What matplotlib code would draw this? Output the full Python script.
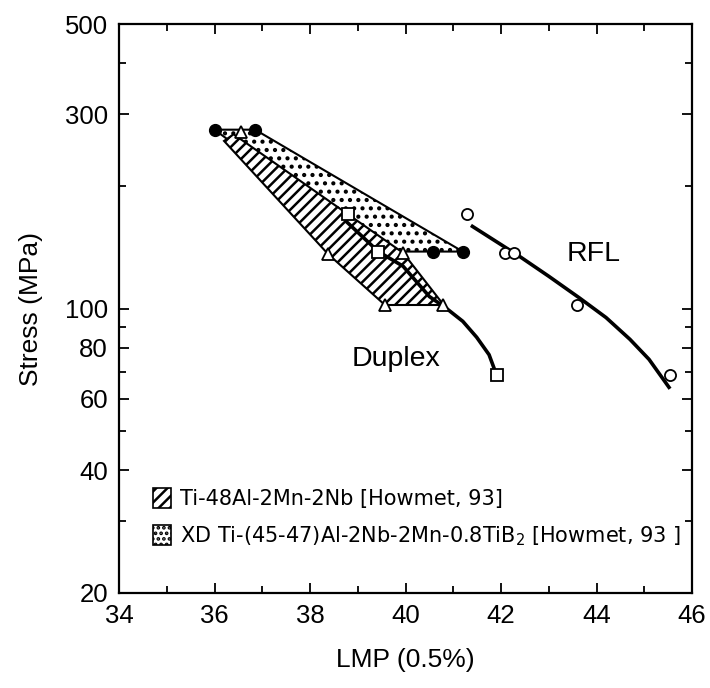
import matplotlib
matplotlib.use("Agg")
import matplotlib.pyplot as plt
from matplotlib.patches import Polygon, Patch
from matplotlib.ticker import FixedLocator, NullFormatter

plt.rcParams['font.family'] = ['Liberation Sans', 'DejaVu Sans']
plt.rcParams['hatch.linewidth'] = 1.8

# ---- data ----
# XD Ti-(45-47)Al-2Nb-2Mn-0.8TiB2 band (stippled)
xd_band_x = [36.0, 36.85, 41.2, 39.45]
xd_band_y = [275, 275, 138, 138]
xd_pts_x = [36.0, 36.85, 40.58, 41.2]
xd_pts_y = [275, 275, 138, 138]

# Ti-48Al-2Mn-2Nb band (hatched)
ti_band_x = [36.2, 38.38, 39.57, 40.8, 39.95, 36.4]
ti_band_y = [258, 136, 102, 102, 137, 268]
ti_pts_x = [36.55, 38.38, 39.95, 39.57, 40.79]
ti_pts_y = [272, 136, 137, 102, 102]

# Duplex
duplex_pts_x = [38.8, 39.43, 41.92]
duplex_pts_y = [171, 138, 68.5]
duplex_curve_x = [38.75, 39.43, 39.95, 40.5, 40.86, 41.2, 41.49, 41.75, 41.92]
duplex_curve_y = [164, 138, 127, 107, 100, 93, 85, 77, 68]

# RFL
rfl_pts_x = [41.28, 42.08, 42.27, 43.59, 45.54]
rfl_pts_y = [171, 137, 137, 102, 68.5]
rfl_curve_x = [41.37, 42.4, 43.0, 43.65, 44.2, 44.7, 45.1, 45.54]
rfl_curve_y = [160, 134, 120, 106, 95, 84, 75, 63.5]

y_major = [20, 40, 60, 80, 100, 300, 500]
y_minor = [30, 50, 70, 90, 200, 400]
x_major = [34, 36, 38, 40, 42, 44, 46]
x_minor = [35, 37, 39, 41, 43, 45]

legend_labels = ['Ti-48Al-2Mn-2Nb [Howmet, 93]',
                 'XD Ti-(45-47)Al-2Nb-2Mn-0.8TiB$_{2}$ [Howmet, 93 ]']

fig = plt.figure(figsize=(7.10, 6.88), dpi=100)
ax = fig.add_axes([119/710, 95/688, 573/710, 569/688])
ax.set_yscale('log')
ax.set_xlim(34, 46)
ax.set_ylim(20, 500)

# bands
xd_poly = Polygon(list(zip(xd_band_x, xd_band_y)), closed=True,
                  facecolor='white', edgecolor='black', hatch='..', lw=1.5, zorder=2)
ax.add_patch(xd_poly)
ti_poly = Polygon(list(zip(ti_band_x, ti_band_y)), closed=True,
                  facecolor='white', edgecolor='black', hatch='///', lw=1.5, zorder=3)
ax.add_patch(ti_poly)

# curves
ax.plot(duplex_curve_x, duplex_curve_y, color='black', lw=2.6, zorder=4,
        solid_capstyle='butt')
ax.plot(rfl_curve_x, rfl_curve_y, color='black', lw=2.6, zorder=4,
        solid_capstyle='butt')

# markers
ax.plot(xd_pts_x, xd_pts_y, 'o', ms=8.5, mfc='black', mec='black', zorder=6)
ax.plot(ti_pts_x, ti_pts_y, '^', ms=8.5, mfc='white', mec='black', mew=1.3, zorder=6)
ax.plot(duplex_pts_x, duplex_pts_y, 's', ms=8, mfc='white', mec='black', mew=1.3, zorder=6)
ax.plot(rfl_pts_x, rfl_pts_y, 'o', ms=8, mfc='white', mec='black', mew=1.3, zorder=6)

# labels
ax.text(43.93, 136, 'RFL', fontsize=20.5, ha='center', va='center')
ax.text(40.72, 75, 'Duplex', fontsize=20.5, ha='right', va='center')

# ticks
ax.yaxis.set_major_locator(FixedLocator(y_major))
ax.yaxis.set_minor_locator(FixedLocator(y_minor))
ax.set_yticklabels([str(v) for v in y_major])
ax.yaxis.set_minor_formatter(NullFormatter())
ax.xaxis.set_major_locator(FixedLocator(x_major))
ax.xaxis.set_minor_locator(FixedLocator(x_minor))
ax.set_xticklabels([str(v) for v in x_major])

ax.tick_params(which='both', direction='in', top=True, right=True, width=1.3,
               labelsize=18.5, colors='black')
ax.tick_params(which='major', length=7, pad=8)
ax.tick_params(which='minor', length=5)
for s in ax.spines.values():
    s.set_linewidth(1.6)

ax.set_xlabel('LMP (0.5%)', fontsize=19, labelpad=14)
ax.set_ylabel('Stress (MPa)', fontsize=19, labelpad=16)

handles = [Patch(facecolor='white', edgecolor='black', hatch='///', lw=1.2),
           Patch(facecolor='white', edgecolor='black', hatch='...', lw=1.2)]
ax.legend(handles, legend_labels, loc='upper left', bbox_to_anchor=(0.045, 0.2),
          frameon=False, handlelength=0.85, handleheight=1.1,
          handletextpad=0.45, labelspacing=0.75, borderaxespad=0,
          prop={'family': ['DejaVu Sans'], 'size': 15})

fig.savefig('out.png', dpi=100)
